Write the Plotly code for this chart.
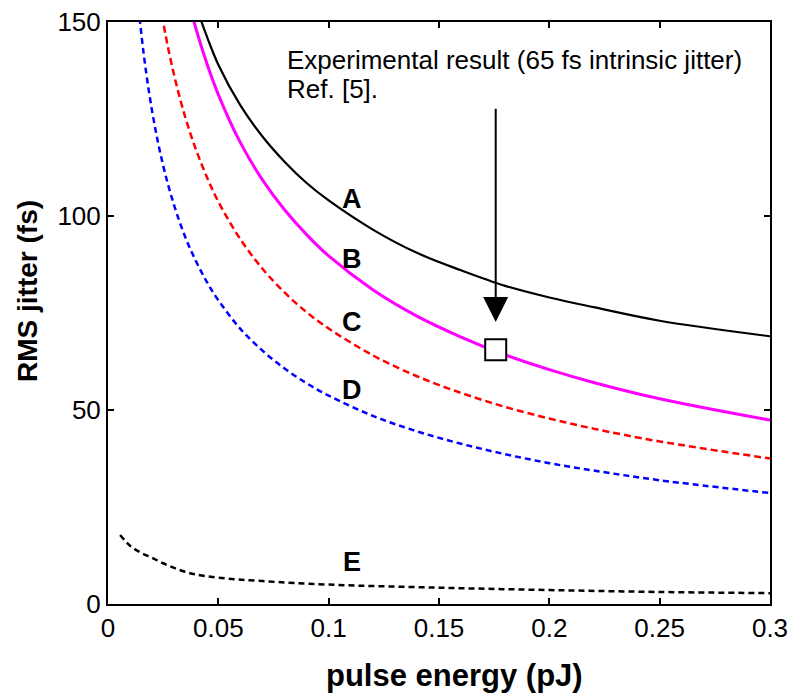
import plotly.graph_objects as go

# ---- data ----
A_x = [0.035, 0.04, 0.045, 0.05, 0.06, 0.07, 0.08, 0.09, 0.10, 0.12, 0.14, 0.16, 0.18, 0.20, 0.22, 0.25, 0.30]
A_y = [164, 154, 146, 139, 128.5, 120.5, 114, 108.5, 104, 96.5, 90.5, 86, 82, 79, 76.5, 73, 69]

B_x = [0.035, 0.04, 0.045, 0.05, 0.06, 0.07, 0.08, 0.09, 0.10, 0.12, 0.14, 0.16, 0.18, 0.20, 0.22, 0.25, 0.30]
B_y = [159, 148, 139, 131.3, 118.9, 109.3, 101.6, 95.2, 89.7, 81.0, 74.2, 68.8, 64.2, 60.4, 57.1, 52.9, 47.4]

C_x = [0.02, 0.025, 0.03, 0.035, 0.04, 0.045, 0.05, 0.06, 0.07, 0.08, 0.09, 0.10, 0.12, 0.14, 0.16, 0.18, 0.20, 0.22, 0.25, 0.30]
C_y = [168.7, 150, 136.2, 125.5, 116.9, 109.8, 103.7, 94.0, 86.4, 80.3, 75.2, 71.0, 64.1, 58.7, 54.4, 50.8, 47.8, 45.2, 41.9, 37.5]

D_x = [0.01, 0.015, 0.02, 0.025, 0.03, 0.035, 0.04, 0.045, 0.05, 0.06, 0.07, 0.08, 0.09, 0.10, 0.12, 0.14, 0.16, 0.18, 0.20, 0.22, 0.25, 0.30]
D_y = [181.9, 147.5, 127.0, 113.0, 102.7, 94.6, 88.2, 82.8, 78.3, 70.9, 65.3, 60.7, 56.9, 53.7, 48.5, 44.5, 41.3, 38.6, 36.3, 34.4, 31.9, 28.6]

E_x = [0.0055, 0.01, 0.015, 0.02, 0.025, 0.03, 0.035, 0.04, 0.05, 0.07, 0.10, 0.15, 0.20, 0.25, 0.30]
E_y = [17.8, 15.0, 13.2, 11.9, 10.5, 9.3, 8.3, 7.6, 6.8, 5.9, 5.0, 4.2, 3.6, 3.1, 2.8]

exp_x = [0.1757]
exp_y = [65.5]

label_names = ["A", "B", "C", "D", "E"]
label_x = [0.1104, 0.1104, 0.1104, 0.1104, 0.1104]
label_y = [104.3, 89.0, 72.8, 55.2, 10.7]

x_tickvals = [0, 0.05, 0.1, 0.15, 0.2, 0.25, 0.3]
x_ticktext = ["0", "0.05", "0.1", "0.15", "0.2", "0.25", "0.3"]
y_tickvals = [0, 50, 100, 150]
y_ticktext = ["0", "50", "100", "150"]

FONT = "Arial, 'Liberation Sans', sans-serif"

fig = go.Figure()

def add_curve(x, y, color, width, dash):
    fig.add_trace(go.Scatter(x=x, y=y, mode="lines",
                             line=dict(color=color, width=width, dash=dash, shape="spline", smoothing=1.0),
                             showlegend=False, hoverinfo="skip"))

add_curve(E_x, E_y, "black", 2.5, "6px,4px")
add_curve(D_x, D_y, "#0000FF", 2.5, "6px,4px")
add_curve(C_x, C_y, "#FF0000", 2.5, "7px,4px")
add_curve(B_x, B_y, "#FF00FF", 3, "solid")
add_curve(A_x, A_y, "black", 2.2, "solid")

fig.add_trace(go.Scatter(x=exp_x, y=exp_y, mode="markers",
                         marker=dict(symbol="square", size=21, color="white",
                                     line=dict(color="black", width=2)),
                         showlegend=False, hoverinfo="skip"))

annotations = []
for name, lx, ly in zip(label_names, label_x, label_y):
    annotations.append(dict(x=lx, y=ly, xref="x", yref="y", text=name, showarrow=False,
                            font=dict(family=FONT, size=27, color="black", weight="bold")))

# arrow
annotations.append(dict(x=exp_x[0], y=72.7, xref="x", yref="y", ax=exp_x[0], ay=128.0,
                        axref="x", ayref="y", text="", showarrow=True, arrowhead=2,
                        arrowsize=2.5, arrowwidth=2, arrowcolor="black", standoff=0,
                        font=dict(size=2)))

# experimental text
annotations.append(dict(x=0.0802, y=140.2, xref="x", yref="y", xanchor="left", yanchor="middle",
                        text="Experimental result (65 fs intrinsic jitter)", showarrow=False,
                        font=dict(family=FONT, size=26, color="black")))
annotations.append(dict(x=0.0802, y=132.7, xref="x", yref="y", xanchor="left", yanchor="middle",
                        text="Ref. [5].", showarrow=False,
                        font=dict(family=FONT, size=26, color="black")))

# axis titles
annotations.append(dict(x=-0.1224, y=0.5378, xref="paper", yref="paper", text="RMS jitter (fs)",
                        textangle=-90, showarrow=False, xanchor="center", yanchor="middle",
                        font=dict(family=FONT, size=28, color="black", weight="bold")))
annotations.append(dict(x=0.5227, y=-0.122, xref="paper", yref="paper", text="pulse energy (pJ)",
                        showarrow=False, xanchor="center", yanchor="middle",
                        font=dict(family=FONT, size=31, color="black", weight="bold")))

axis_common = dict(showline=True, linecolor="black", linewidth=2, mirror="ticks",
                   ticks="inside", ticklen=6, tickwidth=2, tickcolor="black",
                   showgrid=False, zeroline=False, automargin=False,
                   tickfont=dict(family=FONT, size=26, color="black"))

fig.update_layout(
    width=791, height=696,
    margin=dict(l=108, r=21, t=22, b=92, pad=0),
    paper_bgcolor="white", plot_bgcolor="white",
    xaxis=dict(range=[0, 0.3], tickvals=x_tickvals, ticktext=x_ticktext, **axis_common),
    yaxis=dict(range=[0, 150], tickvals=y_tickvals, ticktext=y_ticktext, **axis_common),
    annotations=annotations,
    showlegend=False,
)

fig.write_html("out.html")
